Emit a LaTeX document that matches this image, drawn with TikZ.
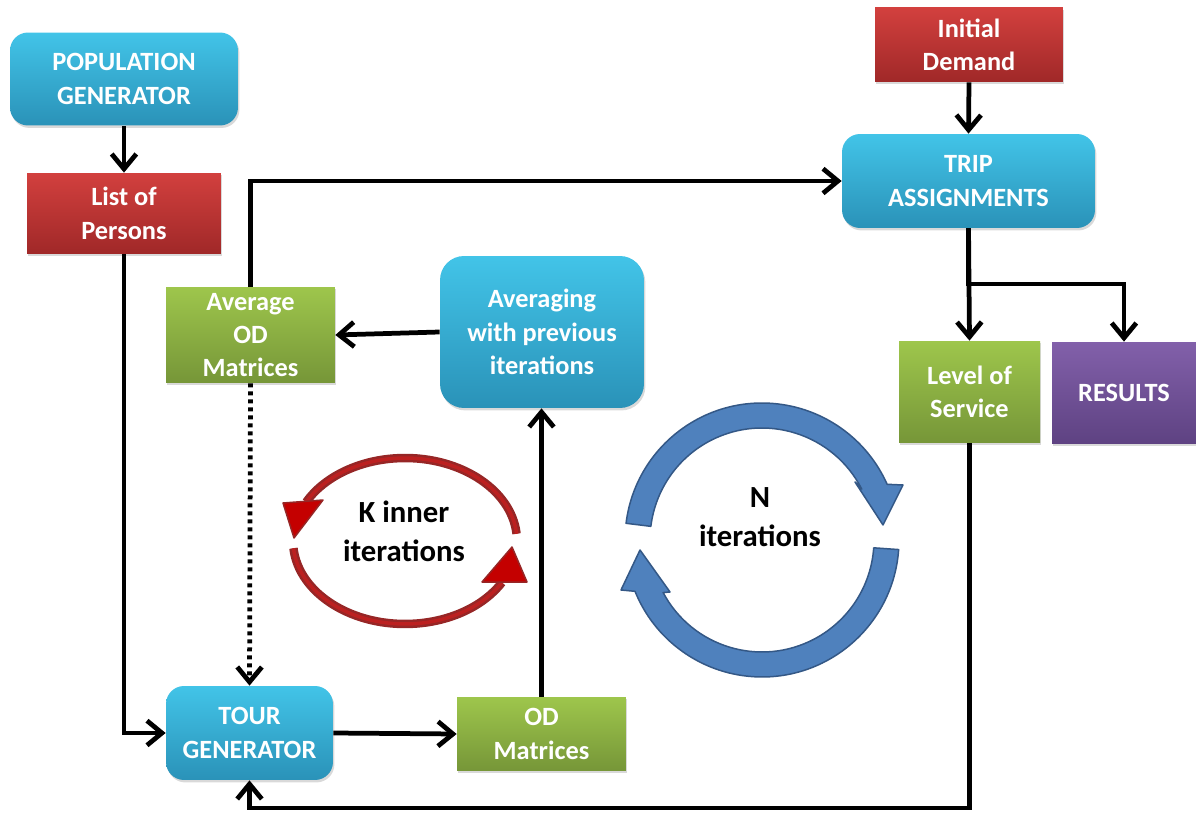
\documentclass[tikz,border=0pt]{standalone}
\usepackage{fontspec}
\setmainfont{Carlito}
\usetikzlibrary{arrows.meta,calc,shadows}
\definecolor{bluetop}{RGB}{66,196,232}
\definecolor{bluebot}{RGB}{42,146,184}
\definecolor{greentop}{RGB}{158,198,76}
\definecolor{greenbot}{RGB}{118,150,56}
\definecolor{redtop}{RGB}{210,64,62}
\definecolor{redbot}{RGB}{160,40,40}
\definecolor{purptop}{RGB}{130,96,170}
\definecolor{purpbot}{RGB}{94,66,130}
\definecolor{ringfill}{RGB}{79,129,189}
\definecolor{ringline}{RGB}{52,88,134}
\definecolor{kdark}{RGB}{150,38,38}
\definecolor{kmid}{RGB}{188,32,32}
\definecolor{khead}{RGB}{196,0,0}
\newcommand\bxfont{\fontsize{15pt}{19pt}\selectfont\bfseries}
\newcommand\lpfont{\fontsize{17.5pt}{22pt}\selectfont\bfseries}
\begin{document}
\begin{tikzpicture}[x=0.02cm,y=-0.02cm,
  box/.style={draw=none, align=center, text=white, font=\bxfont, inner sep=0pt,
    drop shadow={opacity=0.3, shadow xshift=0.8pt, shadow yshift=-1.4pt}},
  bluebox/.style={box, rounded corners=0.36cm, top color=bluetop, bottom color=bluebot},
  greenbox/.style={box, top color=greentop, bottom color=greenbot},
  redbox/.style={box, top color=redtop, bottom color=redbot},
  purpbox/.style={box, top color=purptop, bottom color=purpbot},
  conn/.style={line width=0.095cm, -{Straight Barb[length=8.5pt,width=14pt]}},
  dotconn/.style={conn, dash pattern=on 0.08cm off 0.08cm},
  ring/.style={fill=ringfill, draw=ringline, line width=0.03cm, line join=round},
  kouter/.style={draw=kdark, line width=0.17cm},
  kinner/.style={draw=kmid, line width=0.07cm},
  khd/.style={fill=khead, draw=kdark, line width=0.03cm, line join=round},
  looptext/.style={align=center, font=\lpfont, text=black}
]
\useasboundingbox (0,0) rectangle (1196,813);

% nodes
\node[bluebox, minimum width=4.56cm, minimum height=1.86cm] (pop) at (124,79) {POPULATION\\GENERATOR};
\node[redbox, minimum width=3.88cm, minimum height=1.62cm] (list) at (124,213.5) {List of\\Persons};
\node[redbox, minimum width=3.76cm, minimum height=1.48cm] (init) at (969,45) {Initial\\Demand};
\node[bluebox, minimum width=5.06cm, minimum height=1.88cm] (trip) at (968.5,181) {TRIP\\ASSIGNMENTS};
\node[greenbox, minimum width=2.82cm, minimum height=2.04cm] (los) at (969.5,392) {Level of\\Service};
\node[purpbox, minimum width=2.88cm, minimum height=2.04cm] (res) at (1124,393) {RESULTS};
\node[bluebox, rounded corners=0.48cm, minimum width=4.08cm, minimum height=3.04cm] (avg) at (542,332) {Averaging\\with previous\\iterations};
\node[greenbox, minimum width=3.38cm, minimum height=1.92cm] (aod) at (250.5,335) {Average\\OD\\Matrices};
\node[bluebox, minimum width=3.34cm, minimum height=1.88cm] (tour) at (249.5,733) {TOUR\\GENERATOR};
\node[greenbox, minimum width=3.38cm, minimum height=1.48cm] (od) at (541.5,734) {OD\\Matrices};

\coordinate (br) at (968,284);
\coordinate (bl) at (969,808);

% connectors
\draw[conn] (pop.south) -- (list.north);
\draw[conn] (init.south) -- (trip.north);
\draw[conn] (trip.south) -- (los.north);
\draw[conn] (trip.south) -- (trip.south |- br) -| (res.north);
\draw[conn] (avg.west) -- (aod.east);
\draw[conn] (aod.north) |- (trip.west);
\draw[dotconn] (aod.south) -- (tour.north);
\draw[conn] (list.south) |- (tour.west);
\draw[conn] (tour.east) -- (od.west);
\draw[conn] (od.north) -- (od.north |- avg.south);
\draw[conn] (los.south) -- (los.south |- bl) -| (tour.south);

% N iterations ring
\coordinate (N) at (762,540);
\path[ring] ($(N)+(173:2.74cm)$) arc[start angle=173, end angle=24, radius=2.74cm]
  -- (903,485) -- (883,525) -- (855,482)
  -- ($(N)+(27:2.24cm)$) arc[start angle=27, end angle=173, radius=2.24cm] -- cycle;
\path[ring] ($(N)+(-4:2.74cm)$) arc[start angle=-4, end angle=-158, radius=2.74cm]
  -- (621,590) -- (640,550) -- (670,592)
  -- ($(N)+(-152:2.24cm)$) arc[start angle=-152, end angle=-4, radius=2.24cm] -- cycle;
\node[looptext] (ntext) at (760,517) {N\\iterations};

% K inner loop
\coordinate (K) at (405,541);
\draw[kouter] ($(K)+(5:2.24cm and 1.66cm)$) arc[start angle=5, end angle=152, x radius=2.24cm, y radius=1.66cm];
\draw[kinner] ($(K)+(5:2.24cm and 1.66cm)$) arc[start angle=5, end angle=152, x radius=2.24cm, y radius=1.66cm];
\draw[kouter] ($(K)+(185:2.24cm and 1.66cm)$) arc[start angle=185, end angle=330, x radius=2.24cm, y radius=1.66cm];
\draw[kinner] ($(K)+(185:2.24cm and 1.66cm)$) arc[start angle=185, end angle=330, x radius=2.24cm, y radius=1.66cm];
\path[khd] (283,503) -- (323,500) -- (294,538) -- cycle;
\path[khd] (512,547) -- (527,582) -- (482,582) -- cycle;
\node[looptext] (ktext) at (404,531) {K inner\\iterations};
\end{tikzpicture}
\end{document}
